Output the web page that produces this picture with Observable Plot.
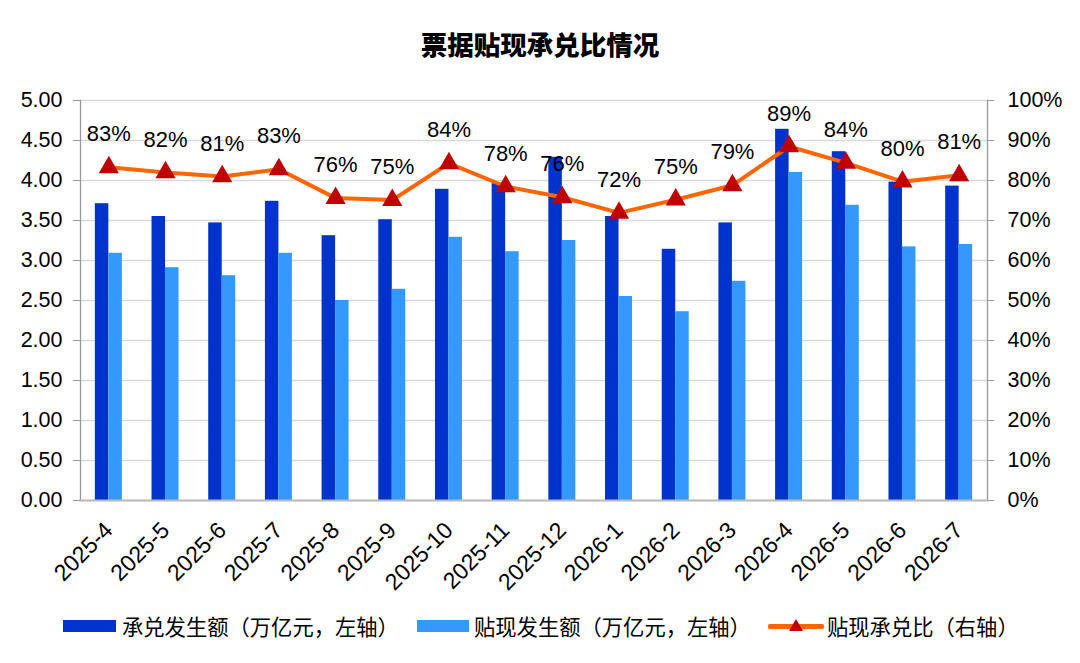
<!DOCTYPE html>
<html>
<head>
<meta charset="utf-8">
<script src="https://cdn.jsdelivr.net/npm/d3@7"></script>
<script src="https://cdn.jsdelivr.net/npm/@observablehq/plot@0.6"></script>
<style>
  body { margin: 0; background: #fff; width: 1080px; height: 663px; position: relative; overflow: hidden; font-family: "Liberation Sans", Arial, "Noto Sans CJK SC", sans-serif; }
  #title { position: absolute; left: 0; top: 25px; width: 1080px; text-align: center; font-family: "Noto Sans CJK SC", sans-serif; font-weight: 900; font-size: 26.5px; line-height: 38px; color: #000; }
  #chart { position: absolute; left: 0; top: 80px; }
  .lg { position: absolute; font-family: "Noto Sans CJK SC", sans-serif; font-size: 21.3px; line-height: 30px; color: #000; top: 611px; white-space: nowrap; }
  .sw { position: absolute; }
</style>
</head>
<body>
<div id="title">票据贴现承兑比情况</div>
<div id="chart"></div>
<div class="sw" style="left:63px;top:620px;width:53px;height:12px;background:#0033CC"></div>
<div class="lg" style="left:122px">承兑发生额（万亿元，左轴）</div>
<div class="sw" style="left:417px;top:620px;width:52px;height:12px;background:#3399FF"></div>
<div class="lg" style="left:474px">贴现发生额（万亿元，左轴）</div>
<div class="sw" style="left:768px;top:624px;width:56px;height:5px;background:#FF6600;border-radius:2px"></div>
<svg class="sw" style="left:788px;top:618px" width="16" height="14"><polygon points="8,1 15,13 1,13" fill="#C00000"/></svg>
<div class="lg" style="left:827px">贴现承兑比（右轴）</div>
<script>
const months = ["2025-4","2025-5","2025-6","2025-7","2025-8","2025-9","2025-10","2025-11","2025-12","2026-1","2026-2","2026-3","2026-4","2026-5","2026-6","2026-7"];
const acceptance = [3.71, 3.55, 3.47, 3.74, 3.31, 3.51, 3.89, 3.96, 4.29, 3.55, 3.14, 3.47, 4.64, 4.36, 3.98, 3.93];
const discount   = [3.09, 2.91, 2.81, 3.09, 2.50, 2.64, 3.29, 3.11, 3.25, 2.55, 2.36, 2.74, 4.10, 3.69, 3.17, 3.20];
const ratio      = [83.3, 82.0, 81.0, 82.8, 75.6, 75.1, 84.3, 78.5, 75.8, 71.9, 75.2, 78.8, 88.5, 84.4, 79.7, 81.3];
const ratioLabels = ["83%","82%","81%","83%","76%","75%","84%","78%","76%","72%","75%","79%","89%","84%","80%","81%"];
const leftTicks = [0, 0.5, 1, 1.5, 2, 2.5, 3, 3.5, 4, 4.5, 5];
const rightTickLabels = ["0%","10%","20%","30%","40%","50%","60%","70%","80%","90%","100%"];

const rows = months.map((m, i) => ({month: m, acc: acceptance[i], dis: discount[i], ratio: ratio[i], label: ratioLabels[i]}));
const toLeft = d => d.ratio / 100 * 5;

const W = 1080, mL = 80, mR = 93;
const band = (W - mL - mR) / months.length;
const barW = 13.5;

const plot = Plot.plot({
  width: W,
  height: 520,
  marginLeft: mL,
  marginRight: mR,
  marginTop: 20,
  marginBottom: 100,
  style: {fontFamily: "'Liberation Sans', Arial, sans-serif", background: "transparent", color: "#000"},
  x: {type: "band", domain: months, padding: 0, round: false},
  y: {domain: [0, 5]},
  marks: [
    Plot.gridY(leftTicks, {stroke: "#d9d9d9", strokeOpacity: 1, strokeWidth: 1.3}),
    Plot.barY(rows, {x: "month", y: "acc", fill: "#0033CC", insetLeft: band / 2 - barW, insetRight: band / 2}),
    Plot.barY(rows, {x: "month", y: "dis", fill: "#3399FF", insetLeft: band / 2, insetRight: band / 2 - barW}),
    Plot.frame({anchor: "left", stroke: "#999", strokeWidth: 1.3}),
    Plot.frame({anchor: "right", stroke: "#999", strokeWidth: 1.3}),
    Plot.frame({anchor: "bottom", stroke: "#bbb", strokeWidth: 2}),
    Plot.lineY(rows, {x: "month", y: toLeft, stroke: "#FF6600", strokeWidth: 4}),
    Plot.dot(rows, {x: "month", y: toLeft, symbol: "triangle", r: 7.5, fill: "#C00000", stroke: "none"}),
    Plot.text(rows, {x: "month", y: toLeft, text: "label", dy: -33, fontSize: 22, fill: "#000"}),
    Plot.axisY({anchor: "left", ticks: leftTicks, tickFormat: d => d.toFixed(2), tickSize: 7, tickPadding: 11, stroke: "#999", fill: "#000", fontSize: 21.5, label: null}),
    Plot.axisY({anchor: "right", ticks: leftTicks, tickFormat: d => rightTickLabels[leftTicks.indexOf(d)], tickSize: 6, tickPadding: 14, stroke: "#999", fill: "#000", fontSize: 21.5, label: null}),
    Plot.axisX({tickRotate: -45, tickSize: 0, tickPadding: 26, fontSize: 23, fill: "#000", label: null})
  ]
});
document.getElementById("chart").appendChild(plot);
</script>
</body>
</html>
